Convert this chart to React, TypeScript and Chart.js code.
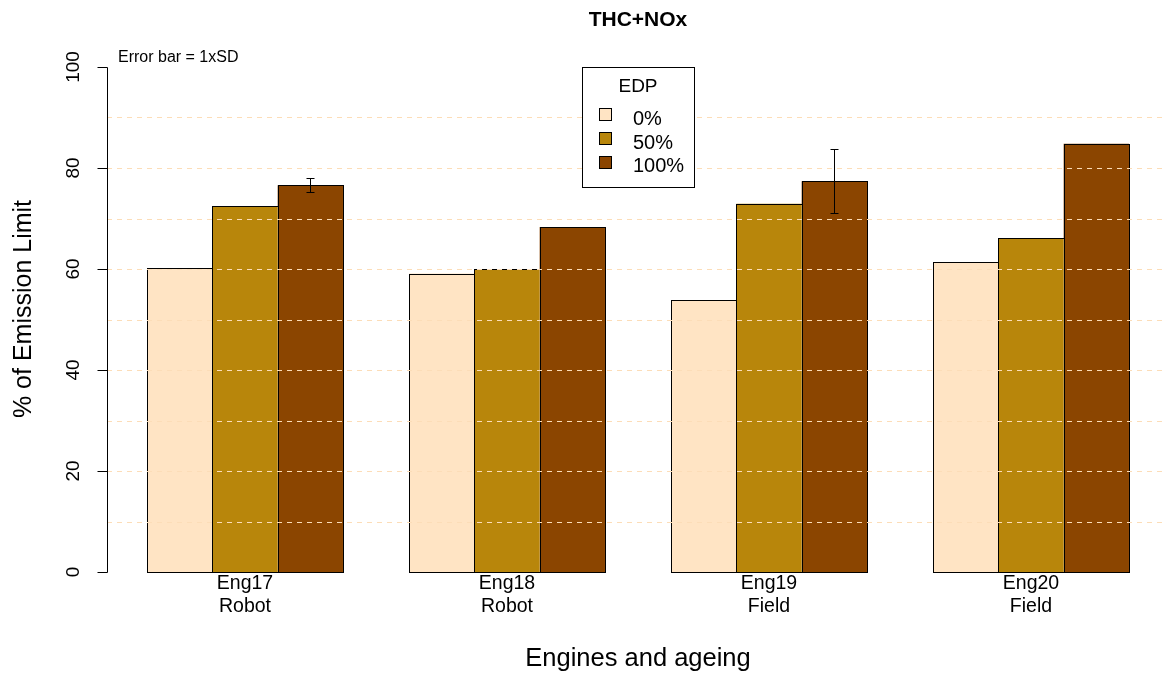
import React, { useEffect, useRef } from "react";
import { Chart, registerables } from "chart.js";

Chart.register(...registerables);

const engines = ["Eng17", "Eng18", "Eng19", "Eng20"];
const ageing = ["Robot", "Robot", "Field", "Field"];
const seriesNames = ["0%", "50%", "100%"];
const seriesColors = ["#FFE4C4", "#B8860B", "#8B4500"];
const edp0 = [60.1, 59.1, 53.8, 61.3];
const edp50 = [72.4, 60.0, 72.9, 66.1];
const edp100 = [76.6, 68.3, 77.4, 84.8];
// standard deviation for error bars (null = none drawn)
const sd100 = [1.4, null, 6.4, null];
const yTicks = [0, 20, 40, 60, 80, 100];
const gridValues = [10, 20, 30, 40, 50, 60, 70, 80, 90];

const FONT = "'Liberation Sans', Arial, sans-serif";

const decorPlugin = {
  id: "decor",
  afterDatasetsDraw(chart: any) {
    const ctx = chart.ctx as CanvasRenderingContext2D;
    const y = chart.scales.y;
    const area = chart.chartArea;
    const axisX = area.left - 7;

    // crisp black outlines around each bar
    ctx.save();
    ctx.strokeStyle = "#000";
    ctx.lineWidth = 1;
    chart.data.datasets.forEach((_: any, di: number) => {
      const m = chart.getDatasetMeta(di);
      m.data.forEach((el: any) => {
        const l = Math.round(el.x - el.width / 2) + 0.5;
        const r = Math.round(el.x + el.width / 2) + 0.5;
        const t = Math.round(el.y) + 0.5;
        const b = Math.round(el.base) + 0.5;
        ctx.strokeRect(l, t, r - l, b - t);
      });
    });
    ctx.restore();

    // dashed horizontal reference lines over the bars
    ctx.save();
    ctx.strokeStyle = "#FCDDB8";
    ctx.lineWidth = 1;
    ctx.setLineDash([5, 5]);
    for (const v of gridValues) {
      const py = Math.round(y.getPixelForValue(v)) + 0.5;
      ctx.beginPath();
      ctx.moveTo(axisX, py);
      ctx.lineTo(chart.width, py);
      ctx.stroke();
    }
    ctx.restore();

    // error bars on the 100% series
    const meta = chart.getDatasetMeta(2);
    ctx.save();
    ctx.strokeStyle = "#000";
    ctx.lineWidth = 1;
    sd100.forEach((s, i) => {
      if (s == null) return;
      const el = meta.data[i];
      const v = edp100[i];
      const x = Math.round(el.x) + 0.5;
      const yt = Math.round(y.getPixelForValue(v + s)) + 0.5;
      const yb = Math.round(y.getPixelForValue(v - s)) + 0.5;
      ctx.beginPath();
      ctx.moveTo(x, yt);
      ctx.lineTo(x, yb);
      ctx.moveTo(x - 4, yt);
      ctx.lineTo(x + 4, yt);
      ctx.moveTo(x - 4, yb);
      ctx.lineTo(x + 4, yb);
      ctx.stroke();
    });
    ctx.restore();

    // y axis
    ctx.save();
    ctx.strokeStyle = "#000";
    ctx.lineWidth = 1;
    const top = y.getPixelForValue(100);
    const bot = y.getPixelForValue(0);
    ctx.beginPath();
    ctx.moveTo(axisX + 0.5, Math.round(top) + 0.5);
    ctx.lineTo(axisX + 0.5, Math.round(bot) + 0.5);
    for (const t of yTicks) {
      const py = Math.round(y.getPixelForValue(t)) + 0.5;
      ctx.moveTo(axisX + 0.5, py);
      ctx.lineTo(axisX - 9.5, py);
    }
    ctx.stroke();
    ctx.fillStyle = "#000";
    ctx.font = `19px ${FONT}`;
    ctx.textAlign = "center";
    ctx.textBaseline = "alphabetic";
    for (const t of yTicks) {
      const py = y.getPixelForValue(t);
      ctx.save();
      ctx.translate(79, py);
      ctx.rotate(-Math.PI / 2);
      ctx.fillText(String(t), 0, 0);
      ctx.restore();
    }
    // y title
    ctx.font = `25px ${FONT}`;
    ctx.save();
    ctx.translate(31, 309);
    ctx.rotate(-Math.PI / 2);
    ctx.fillText("% of Emission Limit", 0, 0);
    ctx.restore();

    // x category labels
    const xs = chart.scales.x;
    ctx.font = `19.5px ${FONT}`;
    engines.forEach((e, i) => {
      const px = xs.getPixelForValue(i);
      ctx.fillText(e, px, 589);
      ctx.fillText(ageing[i], px, 612);
    });
    ctx.font = `25.5px ${FONT}`;
    ctx.fillText("Engines and ageing", 638, 666);

    // title and note
    ctx.font = `bold 21px ${FONT}`;
    ctx.fillText("THC+NOx", 638, 26);
    ctx.font = `16px ${FONT}`;
    ctx.textAlign = "left";
    ctx.fillText("Error bar = 1xSD", 118, 62);

    // legend box
    ctx.fillStyle = "#fff";
    ctx.fillRect(582.5, 67.5, 112, 120);
    ctx.strokeRect(582.5, 67.5, 112, 120);
    ctx.fillStyle = "#000";
    ctx.font = `19px ${FONT}`;
    ctx.textAlign = "center";
    ctx.fillText("EDP", 638, 92);
    ctx.textAlign = "left";
    ctx.font = `20px ${FONT}`;
    seriesNames.forEach((n, i) => {
      const boxTop = 108 + i * 24;
      ctx.fillStyle = seriesColors[i];
      ctx.fillRect(599.5, boxTop + 0.5, 12, 12);
      ctx.strokeRect(599.5, boxTop + 0.5, 12, 12);
      ctx.fillStyle = "#000";
      ctx.fillText(n, 633, 125 + i * 23.5);
    });
    ctx.restore();
  },
};

export default function App() {
  const ref = useRef<HTMLCanvasElement | null>(null);
  useEffect(() => {
    if (!ref.current) return;
    const chart = new Chart(ref.current, {
      type: "bar",
      data: {
        labels: engines,
        datasets: [edp0, edp50, edp100].map((d, i) => ({
          label: seriesNames[i],
          data: d,
          backgroundColor: seriesColors[i],
          borderWidth: 0,
          barPercentage: 1,
          categoryPercentage: 0.748,
        })),
      },
      options: {
        animation: false,
        responsive: false,
        maintainAspectRatio: false,
        layout: { padding: { left: 114, right: 0, top: 67, bottom: 103 } },
        plugins: { legend: { display: false }, title: { display: false }, tooltip: { enabled: false } },
        scales: {
          x: { display: false },
          y: { display: false, min: 0, max: 100 },
        },
      },
      plugins: [decorPlugin],
    });
    return () => chart.destroy();
  }, []);
  return (
    <div style={{ position: "absolute", left: 0, top: 0, width: 1162, height: 675, background: "#fff" }}>
      <canvas ref={ref} width={1162} height={675} style={{ display: "block" }} />
    </div>
  );
}
